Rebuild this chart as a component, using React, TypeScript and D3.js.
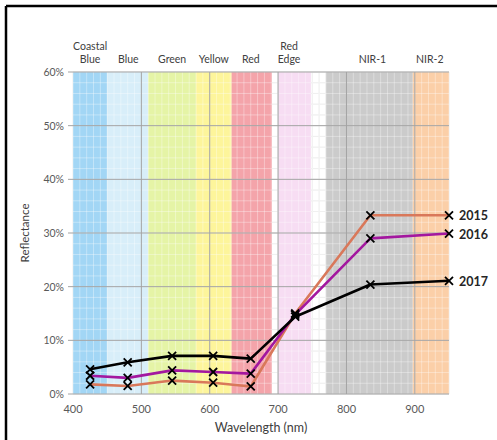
import { scaleLinear, line, range } from "d3";

const W = 497;
const H = 440;
const margin = { left: 73, right: 48, top: 72, bottom: 46 };

const wavelengths = [425, 480, 545, 605, 660, 725, 835, 950];
const years = ["2015", "2016", "2017"];
const values2015 = [1.8, 1.5, 2.5, 2.1, 1.4, 15.0, 33.3, 33.3];
const values2016 = [3.4, 3.0, 4.4, 4.1, 3.8, 14.8, 29.0, 29.9];
const values2017 = [4.6, 5.9, 7.1, 7.1, 6.6, 14.4, 20.4, 21.1];
const lineColors = ["#d9785a", "#a3179f", "#000000"];

const bandNames = [["Coastal", "Blue"], ["Blue"], ["Green"], ["Yellow"], ["Red"], ["Red", "Edge"], ["NIR-1"], ["NIR-2"]];
const bandStart = [400, 450, 510, 580, 632, 700, 770, 897];
const bandEnd = [450, 510, 580, 632, 691, 748, 897, 950];
const bandLabelAt = [425, 481, 545, 606, 660, 716, 838, 922];
const bandColors = ["#a2d6f5", "#d8eef9", "#e5f4a6", "#fdf59b", "#f4a4aa", "#f7ddf3", "#cbcbcb", "#fbcfa8"];

const xTicks = [400, 500, 600, 700, 800, 900];
const yTicks = [0, 10, 20, 30, 40, 50, 60];

const font = "Lato, 'Open Sans', sans-serif";

export default function App() {
  const x = scaleLinear().domain([400, 950]).range([margin.left, W - margin.right]);
  const y = scaleLinear().domain([0, 60]).range([H - margin.bottom, margin.top]);
  const series = [values2015, values2016, values2017];
  const path = line<number>()
    .x((_, i) => x(wavelengths[i]))
    .y((d) => y(d));

  const minorX = range(400, 951, 10);
  const minorY = range(0, 61, 2);
  const [x0, x1] = x.range();
  const [y0, y1] = y.range();

  return (
    <svg width={W} height={H} style={{ position: "absolute", left: 0, top: 0, background: "#fff" }}>
      <rect x={0} y={0} width={W} height={H} fill="#fff" />
      {/* frame */}
      <line x1={6} y1={6} x2={W} y2={6} stroke="#000" strokeWidth={2.5} />
      <line x1={6} y1={6} x2={6} y2={H} stroke="#000" strokeWidth={2.5} />

      {/* light minor grid under bands */}
      {minorX.map((v) => (
        <line key={"mx" + v} x1={x(v)} x2={x(v)} y1={y0} y2={y1} stroke="#e8e8e8" strokeWidth={1} />
      ))}
      {minorY.map((v) => (
        <line key={"my" + v} x1={x0} x2={x1} y1={y(v)} y2={y(v)} stroke="#e8e8e8" strokeWidth={1} />
      ))}

      {/* bands */}
      {bandStart.map((s, i) => (
        <rect key={"b" + i} x={x(s)} y={y1} width={x(bandEnd[i]) - x(s)} height={y0 - y1} fill={bandColors[i]} />
      ))}

      {/* white minor grid over bands */}
      {minorX.map((v) => (
        <line key={"wx" + v} x1={x(v)} x2={x(v)} y1={y0} y2={y1} stroke="#fff" strokeOpacity={0.35} strokeWidth={1} />
      ))}
      {minorY.map((v) => (
        <line key={"wy" + v} x1={x0} x2={x1} y1={y(v)} y2={y(v)} stroke="#fff" strokeOpacity={0.35} strokeWidth={1} />
      ))}

      {/* major grid */}
      {xTicks.slice(1).map((v) => (
        <line key={"gx" + v} x1={x(v)} x2={x(v)} y1={y0} y2={y1} stroke="#a3a3a3" strokeWidth={1} />
      ))}
      {yTicks.map((v) => (
        <line key={"gy" + v} x1={x0 - 5} x2={x1} y1={y(v)} y2={y(v)} stroke="#a3a3a3" strokeWidth={1} />
      ))}

      {/* axis labels */}
      {yTicks.map((v) => (
        <text key={"ty" + v} x={x0 - 9} y={y(v) + 4} textAnchor="end" fontSize={10.5} fill="#595959" fontFamily={font}>
          {v + "%"}
        </text>
      ))}
      {xTicks.map((v) => (
        <text key={"tx" + v} x={x(v)} y={y0 + 19} textAnchor="middle" fontSize={11} fill="#595959" fontFamily={font}>
          {v}
        </text>
      ))}
      <text x={(x0 + x1) / 2 + 0} y={H - 8} textAnchor="middle" fontSize={12.5} fill="#404040" fontFamily={font}>
        Wavelength (nm)
      </text>
      <text
        transform={`translate(29, ${(y0 + y1) / 2}) rotate(-90)`}
        textAnchor="middle"
        fontSize={11.5}
        fill="#404040"
        fontFamily={font}
      >
        Reflectance
      </text>

      {/* band labels */}
      {bandNames.map((lines, i) => (
        <text key={"bl" + i} x={x(bandLabelAt[i])} textAnchor="middle" fontSize={10.5} fill="#404040" fontFamily={font}>
          {lines.map((t, j) => (
            <tspan key={j} x={x(bandLabelAt[i])} y={y1 - 9 - (lines.length - 1 - j) * 13}>
              {t}
            </tspan>
          ))}
        </text>
      ))}

      {/* series */}
      {series.map((vals, s) => (
        <path key={"p" + s} d={path(vals) || ""} fill="none" stroke={lineColors[s]} strokeWidth={2.6} strokeLinejoin="round" />
      ))}
      {series.map((vals, s) =>
        vals.map((v, i) => {
          const cx = x(wavelengths[i]);
          const cy = y(v);
          const r = 4;
          return (
            <path
              key={"m" + s + "-" + i}
              d={`M${cx - r},${cy - r}L${cx + r},${cy + r}M${cx - r},${cy + r}L${cx + r},${cy - r}`}
              stroke="#000"
              strokeWidth={1.8}
            />
          );
        })
      )}
      {series.map((vals, s) => (
        <text
          key={"yl" + s}
          x={x1 + 10}
          y={y(vals[vals.length - 1]) + 5}
          fontSize={12.5}
          fontWeight="bold"
          fill="#262626"
          fontFamily={font}
        >
          {years[s]}
        </text>
      ))}
    </svg>
  );
}
